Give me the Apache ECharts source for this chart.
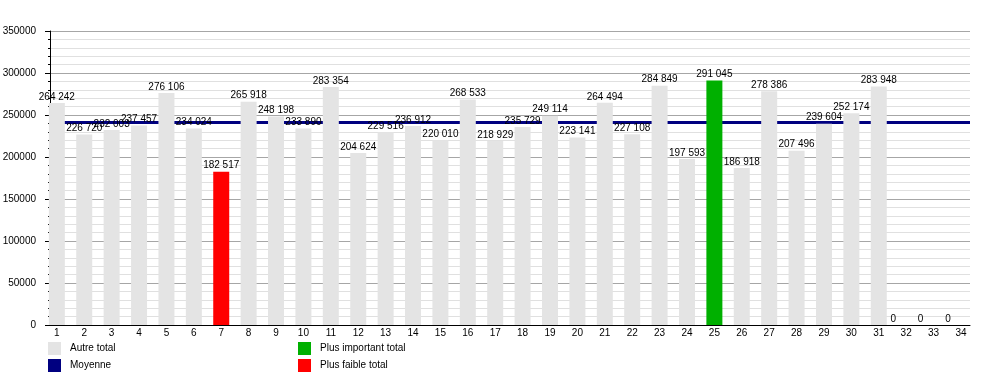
<!DOCTYPE html>
<html>
<head>
<meta charset="utf-8">
<script src="https://cdn.jsdelivr.net/npm/echarts@6/dist/echarts.min.js"></script>
<style>
  html, body { margin: 0; padding: 0; background: #fff; }
  #chart { width: 1000px; height: 375px; }
</style>
</head>
<body>
<div id="chart"></div>
<script>
// jours 1..34, les trois derniers sans valeur (0)
const jours = [1, 2, 3, 4, 5, 6, 7, 8, 9, 10, 11, 12, 13, 14, 15, 16, 17,
  18, 19, 20, 21, 22, 23, 24, 25, 26, 27, 28, 29, 30, 31, 32, 33, 34];
const totaux = [264242, 226720, 232003, 237457, 276106, 234024, 182517, 265918,
  248198, 233890, 283354, 204624, 229516, 236912, 220010, 268533, 218929,
  235729, 249114, 223141, 264494, 227108, 284849, 197593, 291045, 186918,
  278386, 207496, 239604, 252174, 283948, 0, 0, 0];
const moyenne = 241437;
const jourPlusFaible = 7;
const jourPlusImportant = 25;

const fmt = v => String(v).replace(/\B(?=(\d{3})+(?!\d))/g, " ");
const font = "Liberation Sans";

const autre = [];
const faible = [];
const important = [];
jours.forEach((j, i) => {
  const item = { value: [j, totaux[i]] };
  if (totaux[i] === 0) item.label = { offset: [-13, 0] };
  if (j === jourPlusFaible) faible.push(item);
  else if (j === jourPlusImportant) important.push(item);
  else autre.push(item);
});

const barLabel = {
  show: true,
  position: "top",
  distance: 1,
  fontFamily: font,
  fontSize: 10,
  color: "#000",
  formatter: p => fmt(p.value[1])
};

const barSeries = (name, color, data) => ({
  name: name,
  type: "bar",
  barWidth: 16,
  barGap: "-100%",
  z: 3,
  itemStyle: { color: color },
  label: barLabel,
  data: data
});

const legendBase = {
  orient: "vertical",
  top: 342,
  padding: 0,
  itemWidth: 13,
  itemHeight: 13,
  itemGap: 4,
  textStyle: { fontFamily: font, fontSize: 10, color: "#000", padding: [0, 0, 0, 4] }
};

const chart = echarts.init(document.getElementById("chart"));
chart.setOption({
  animation: false,
  backgroundColor: "#fff",
  grid: { left: 50, right: 30, top: 31, bottom: 50, outerBoundsMode: "none" },
  legend: [
    Object.assign({}, legendBase, {
      left: 48,
      data: [{ name: "Autre total", icon: "rect" }, { name: "Moyenne", icon: "rect" }]
    }),
    Object.assign({}, legendBase, {
      left: 298,
      data: [{ name: "Plus important total", icon: "rect" }, { name: "Plus faible total", icon: "rect" }]
    })
  ],
  xAxis: {
    type: "value",
    min: 0.75,
    max: 34.33,
    interval: 0.25,
    splitLine: { show: false },
    axisTick: { show: false },
    axisLine: { onZero: false, lineStyle: { color: "#000", width: 1 } },
    axisLabel: {
      margin: 3,
      fontFamily: font,
      fontSize: 10,
      color: "#000",
      formatter: v => (Number.isInteger(v) ? String(v) : "")
    }
  },
  yAxis: {
    type: "value",
    min: 0,
    max: 350000,
    interval: 50000,
    axisLine: { show: true, onZero: false, lineStyle: { color: "#000" } },
    axisTick: { show: true, length: 5, lineStyle: { color: "#000" } },
    minorTick: { show: true, splitNumber: 5, length: 2, lineStyle: { color: "#000" } },
    splitLine: { lineStyle: { color: "#a6a6a6" } },
    minorSplitLine: { show: true, lineStyle: { color: "#e0e0e0" } },
    axisLabel: {
      margin: 14,
      fontFamily: font,
      fontSize: 10,
      color: "#000",
      formatter: v => String(v)
    }
  },
  series: [
    barSeries("Autre total", "#e4e4e4", autre),
    barSeries("Plus important total", "#00b000", important),
    barSeries("Plus faible total", "#ff0000", faible),
    {
      name: "Moyenne",
      type: "line",
      z: 1,
      itemStyle: { color: "#000080" },
      lineStyle: { color: "#000080" },
      data: [],
      markLine: {
        silent: true,
        z: 1,
        symbol: "none",
        label: { show: false },
        lineStyle: { color: "#000080", width: 3, type: "solid" },
        data: [{ yAxis: moyenne }]
      }
    }
  ]
});
</script>
</body>
</html>
